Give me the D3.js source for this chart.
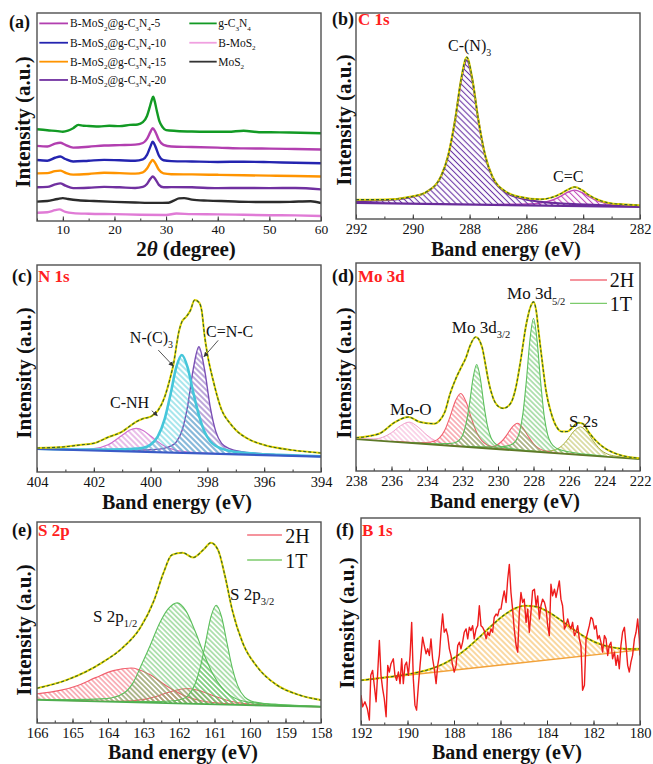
<!DOCTYPE html>
<html><head><meta charset="utf-8">
<script src="https://cdn.jsdelivr.net/npm/d3@7"></script>
<style>body{margin:0;background:#fff}svg{display:block}</style>
</head><body>
<svg width="653" height="764"></svg>
<script>
// ---------------- DATA ----------------
// (a) XRD, y in a.u. (0-100 of frame)
const xrdGrid = [5,7,8.5,9.5,10.5,12,15,18,21,24,25.5,26.3,27,27.4,27.9,28.6,29.5,31,35,40,45,50,55,60];
const xrd5  = [36.1,35.8,37.2,37.6,36.6,35.3,35.7,36.3,36.5,36.7,37.5,39.5,43.0,44.6,43.0,39.0,36.6,35.8,35.6,35.3,34.9,34.8,34.6,34.4];
const xrd10 = [29.3,29.0,30.4,31.0,29.8,28.6,29.0,29.4,29.2,29.0,29.6,31.8,36.0,38.1,36.0,31.5,29.2,28.8,28.6,28.4,28.5,28.3,28.0,27.8];
const xrd15 = [22.9,23.0,24.0,24.2,23.2,22.3,22.6,23.2,23.0,22.8,23.4,25.2,28.2,29.3,27.8,24.6,22.9,22.5,22.4,22.2,22.0,21.8,21.6,21.4];
const xrd20 = [16.2,16.4,17.6,18.1,17.0,15.8,16.0,16.4,16.2,15.9,16.4,17.8,20.4,21.4,20.2,17.4,16.2,16.3,16.2,15.8,15.9,15.8,15.9,15.2];
const gcnX = [5,7,9,10,11,12,13,14,15,17,19,21,23,24.5,25.5,26.3,26.8,27.2,27.5,27.8,28.2,28.7,29.3,30,32,35,38,42,45,48,52,56,60];
const gcnY = [44.1,43.6,43.2,42.9,43.4,44.6,46.2,45.8,45.7,45.4,45.8,45.6,46.2,46.4,47.5,50.5,54.5,58.0,59.8,57.5,53.0,48.0,45.2,43.7,43.3,43.0,42.9,42.9,43.4,42.7,42.6,42.4,42.2];
const mosX = [5,7,9,10,11,13,16,20,24,28,30.5,31.5,32.5,33.5,35,38,42,46,50,54,58,60];
const mosY = [9.3,9.6,10.6,11.0,10.6,10.0,9.6,9.2,8.9,8.7,8.8,9.8,10.9,11.0,10.3,9.8,9.5,9.2,9.1,9.2,9.5,8.6];
const bmosX = [5,7,8.5,9.3,10.5,12,15,20,25,30,32,35,40,45,50,55,60];
const bmosY = [4.0,4.2,5.2,5.6,4.4,3.8,3.5,3.3,3.0,2.9,3.6,3.3,3.2,3.0,2.8,2.7,2.4];
const xrdTicks = [10,20,30,40,50,60];

// (b) C 1s  (heights above linear background)
const bBaseX = [292,282], bBaseY = [7.8,5.9];
const bCN3X = [292,291,290,289.5,289,288.75,288.5,288.3,288.1,287.9,287.7,287.45,287.2,286.7,286.2,285.5,284.5,283,282];
const bCN3H = [0.8,1.5,3.4,5.9,13.6,23.7,41.7,60.1,70,60.1,41.7,23.7,13.6,5.9,3.4,1.8,1.0,0.5,0.4];
const bCCX = [287,286,285.5,285.1,284.8,284.55,284.3,284.05,283.8,283.5,283.1,282.6,282];
const bCCH = [0.25,0.6,1.2,2.6,4.6,6.6,7.7,6.6,4.6,2.6,1.2,0.6,0.35];
const bEnvX = [292,291,290,289.5,289,288.75,288.5,288.3,288.1,287.9,287.7,287.45,287.2,286.7,286.2,285.5,285.1,284.8,284.55,284.3,284.05,283.8,283.5,283.1,282.6,282];
const bEnvH = [1.6,1.8,3.6,6.0,13.8,24.0,42.0,60.8,71.5,60.8,42.0,24.0,13.9,6.3,4.0,3.0,4.0,5.8,7.8,9.2,7.8,5.4,3.3,1.7,1.1,0.8];

// (c) N 1s
const cBaseX = [404,394], cBaseY = [11.1,7.4];
const cNHX = [404,403,402.5,402,401.5,401,400.75,400.5,400.25,400,399.75,399.5,399.3,399.1,398.9,398.5,398,397,396,394];
const cNHH = [0.13,0.25,0.4,0.94,3.0,7.8,10.25,11.3,10.25,7.8,5.15,3.0,1.9,1.2,0.8,0.4,0.27,0.15,0.1,0.05];
const cNC3X = [404,402,401,400.5,400.25,400,399.75,399.5,399.3,399.1,398.9,398.7,398.5,398.3,398.1,397.9,397.7,397.5,397.2,396.8,396.3,395.5,394];
const cNC3H = [0.16,0.43,0.95,1.5,2.0,3.6,7.6,16.4,28.1,41.1,47.3,41.5,29.5,18.5,10.5,6.0,3.8,2.6,1.6,1.0,0.6,0.35,0.18];
const cCNCX = [404,402,401,400.5,400,399.5,399.3,399.1,398.9,398.7,398.5,398.3,398.1,397.9,397.7,397.5,397.2,396.8,396.3,395.5,394];
const cCNCH = [0.1,0.24,0.45,0.67,1.1,2.1,3.1,5.15,10.6,22.5,40.5,51.5,40.5,22.5,10.6,5.15,2.6,1.4,0.8,0.44,0.18];
const cEnvX = [404,403,402.5,402,401.5,401,400.75,400.5,400.25,400,399.75,399.5,399.3,399.2,399.0,398.9,398.75,398.6,398.45,398.3,398.2,398.1,398.0,397.8,397.5,397.2,397,396.5,396,395,394];
const cEnvH = [0.5,1.5,2.5,3.5,6.6,9.5,12.1,14.5,16.1,17.1,20.0,27.0,36.6,42.4,58.8,63.3,65.8,68.9,74.0,73.0,69.0,57.0,48.1,35.6,21.3,14.9,11.8,7.2,4.9,2.8,1.8];

// (d) Mo 3d
const dBaseX = [238,222], dBaseY = [15.3,5.7];
const dMoOX = [238,237,236.5,236,235.5,235,234.5,234,233.5,233,232,231];
const dMoOH = [0.25,0.73,1.8,4.3,7.9,10,7.9,4.3,1.8,0.73,0.25,0.14];
const d2H32X = [236,235,234.1,233.6,233.3,233.0,232.7,232.4,232.1,231.8,231.5,231.2,230.9,230.6,230.1,229.1,228];
const d2H32H = [0.2,0.35,0.74,1.66,3.4,7.3,14.0,21.7,25.5,21.7,14.0,7.3,3.4,1.66,0.74,0.35,0.2];
const d1T32X = [235.2,234.2,233.4,232.9,232.5,232.2,232.0,231.8,231.6,231.4,231.2,231.0,230.8,230.6,230.4,230.2,229.9,229.5,229.0,228.2,227.2];
const d1T32H = [0.18,0.31,0.56,0.92,1.5,2.9,5.4,11.1,21.2,33.6,40,33.6,21.2,11.1,5.4,2.9,1.5,0.92,0.56,0.31,0.18];
const d2H52X = [232.8,231.8,230.9,230.4,230.1,229.8,229.5,229.2,228.9,228.6,228.3,228.0,227.7,227.4,226.9,225.9,224.8];
const d2H52H = [0.1,0.18,0.38,0.85,1.75,3.8,7.2,11.1,13.1,11.1,7.2,3.8,1.75,0.85,0.38,0.18,0.1];
const d1T52X = [232,231,230.2,229.7,229.3,229.0,228.8,228.6,228.4,228.2,228.0,227.8,227.6,227.4,227.2,227.0,226.7,226.3,225.8,225.0,224.0];
const d1T52H = [0.28,0.49,0.9,1.47,2.4,4.6,8.6,17.7,33.9,53.7,64,53.7,33.9,17.7,8.6,4.6,2.4,1.47,0.9,0.49,0.28];
const dS2sX = [228.7,227.8,227.35,226.85,226.45,226.1,225.725,225.35,224.975,224.6,224.25,223.85,223.35,222.55,222];
const dS2sH = [0.19,0.38,0.57,1.4,3.4,6.75,11.2,13.5,11.2,6.75,3.4,1.4,0.57,0.27,0.19];
const dEnvX = [238,236.7,235.8,235.05,234.4,233.6,233.27,233.0,232.7,232.35,232.05,231.8,231.6,231.25,230.9,230.7,230.55,230.3,229.97,229.7,229.3,229.0,228.75,228.4,228.15,228.0,227.85,227.7,227.5,227.3,227.0,226.7,226.4,226.1,225.8,225.5,225.2,224.9,224.5,224.1,223.5,223.0,222];
const dEnvH = [0.7,3.4,9.5,12.4,10.4,10.1,12.0,16.0,25.0,33.0,38.5,43.0,48.2,53.2,48.6,40.0,33.0,25.0,20.5,19.8,22.3,30.0,42.0,61.4,70.0,72.0,68.0,57.0,43.0,30.0,19.0,12.7,10.6,10.8,13.0,15.4,15.0,11.4,7.5,4.7,2.2,1.1,0.4];

// (e) S 2p
const eBaseX = [166,158], eBaseY = [11.5,8.0];
const e2H12X = [166,165.35,164.85,164.35,163.85,163.35,162.85,162.35,161.85,161.35,160.85,160.35,159.35,158];
const e2H12H = [3.0,5.0,7.7,11.8,15.5,17,14.2,8.5,3.9,1.5,0.65,0.34,0.2,0.12];
const e2H32X = [165.5,164.55,163.75,163.35,162.95,162.55,162.15,161.75,161.35,160.95,160.55,160.15,159.75,158.95,158];
const e2H32H = [0.05,0.12,0.29,0.68,1.73,3.75,6.25,7.5,6.25,3.75,1.73,0.68,0.29,0.12,0.06];
const e1T12X = [166,165,164.05,163.55,163.3,163.05,162.8,162.55,162.3,162.05,161.8,161.55,161.3,161.05,160.8,160.55,160.05,159.05,158];
const e1T12H = [0.34,0.6,1.5,4.5,9.5,19,29,39.5,47,50,46,36.3,25,15.2,8.5,4.5,1.5,0.6,0.35];
const e1T32X = [164,162.75,162.25,161.95,161.75,161.55,161.4,161.25,161.1,160.95,160.8,160.65,160.5,160.35,160.15,159.95,159.65,159.15,158];
const e1T32H = [0.2,0.6,1.1,2.0,3.9,9.7,18.3,30.8,43.5,49.3,43.5,30.8,18.3,9.7,3.9,2.0,1.1,0.6,0.15];
const eEnvX = [166,165.16,164.2,163.6,163.1,162.7,162.44,162.2,161.9,161.6,161.3,161.1,160.9,160.7,160.5,160.2,159.8,159.25,158.6,158];
const eEnvH = [5.8,10.3,19.0,26.8,36.9,51.1,64.6,73.8,75.0,72.8,77.0,80.3,76.8,63.6,47.1,30.7,19.2,10.4,5.6,3.4];

// (f) B 1s
const fBaseX = [192,180], fBaseY = [21.6,36.3];
const fFitX = [192,191,190,189.45,188.95,188.45,187.95,187.45,186.95,186.45,185.95,185.45,184.95,184.45,183.95,183.45,182.95,182.45,181.95,181.45,180.95,180.45,180];
const fFitH = [0,0.08,0.42,0.96,1.96,3.6,6.2,9.8,14.2,18.9,23.2,26.3,27.4,26.3,23.2,18.9,14.2,9.8,6.2,3.6,1.96,0.96,0.48];
const fRawX = [192.0,191.93,191.83,191.73,191.64,191.58,191.5,191.43,191.35,191.28,191.21,191.14,191.07,191.0,190.92,190.85,190.78,190.71,190.61,190.54,190.47,190.39,190.32,190.25,190.18,190.11,190.04,189.96,189.89,189.82,189.75,189.68,189.61,189.53,189.46,189.35,189.28,189.2,189.13,189.06,188.99,188.92,188.85,188.77,188.7,188.63,188.56,188.49,188.42,188.34,188.27,188.2,188.13,188.06,187.99,187.91,187.84,187.77,187.7,187.63,187.56,187.48,187.41,187.34,187.27,187.2,187.13,187.05,186.98,186.91,186.84,186.77,186.7,186.62,186.55,186.48,186.41,186.34,186.27,186.19,186.12,186.05,185.98,185.91,185.84,185.76,185.69,185.62,185.55,185.48,185.41,185.33,185.26,185.19,185.12,185.05,184.98,184.9,184.83,184.76,184.69,184.62,184.54,184.47,184.4,184.33,184.26,184.19,184.11,184.04,183.97,183.9,183.83,183.76,183.68,183.61,183.54,183.47,183.4,183.33,183.25,183.18,183.11,183.04,182.97,182.9,182.82,182.75,182.68,182.61,182.54,182.47,182.39,182.32,182.25,182.18,182.11,182.04,181.96,181.89,181.82,181.75,181.68,181.61,181.53,181.46,181.39,181.32,181.25,181.18,181.1,181.03,180.96,180.89,180.82,180.75,180.67,180.6,180.53,180.46,180.39,180.32,180.24,180.17,180.1,180.03,180.0];
const fRawY = [14.4,8.8,11.2,8.0,2.4,24.0,26.4,19.2,11.2,25.6,40.8,24.0,17.6,12.8,4.0,28.8,25.6,29.6,32.0,24.0,21.6,25.6,20.0,32.0,20.0,28.8,30.4,24.0,33.6,49.6,22.4,9.6,7.2,19.2,28.8,42.4,38.4,34.4,36.8,33.6,41.6,32.0,27.2,20.0,28.8,33.6,44.8,53.6,44.8,46.4,43.2,36.8,33.6,28.8,25.6,28.8,38.4,40.0,36.8,40.0,44.8,46.4,41.6,47.2,45.6,48.0,41.6,46.4,48.0,57.6,48.0,47.2,45.6,41.6,44.8,43.2,46.4,44.8,52.0,53.6,52.8,56.0,56.0,60.8,64.8,59.2,70.4,77.6,64.0,56.0,46.4,38.4,35.2,54.4,64.0,59.2,60.8,49.6,56.0,44.8,54.4,64.8,65.6,57.6,62.4,51.2,57.6,60.8,59.2,56.0,48.0,43.2,68.0,62.4,65.6,61.6,65.6,69.6,60.8,57.6,46.4,48.0,51.2,48.0,46.4,49.6,43.2,44.8,48.0,41.6,38.4,16.8,19.2,41.6,44.8,48.0,52.0,51.2,46.4,48.0,41.6,43.2,40.0,35.2,43.2,41.6,33.6,38.4,40.0,32.0,35.2,28.8,33.6,27.2,38.4,44.8,47.2,38.4,28.8,25.6,30.4,33.6,41.6,44.8,51.2,41.6,33.6];

// ---------------- DRAWING ----------------
const svg = d3.select("svg");
const defs = svg.append("defs");
const SERIF = "'Liberation Serif','Times New Roman',Times,serif";

function hatch(id, color, size, sw){
  const p = defs.append("pattern").attr("id", id).attr("patternUnits","userSpaceOnUse")
    .attr("width", size).attr("height", size).attr("patternTransform","rotate(-45)");
  p.append("line").attr("x1", size/2).attr("y1", -1).attr("x2", size/2).attr("y2", size+1)
    .attr("stroke", color).attr("stroke-width", sw);
}
defs.append("marker").attr("id","arr").attr("viewBox","0 0 10 10").attr("refX",9).attr("refY",5)
  .attr("markerWidth",5).attr("markerHeight",5).attr("orient","auto")
  .append("path").attr("d","M0,0L10,5L0,10z").attr("fill","#333");

function rich(g, x, y, parts, size, opt){
  opt = opt || {};
  const t = g.append("text").attr("x", x).attr("y", y).attr("font-family", SERIF)
    .attr("font-size", size).attr("fill", opt.fill || "#111")
    .attr("font-weight", opt.bold ? "bold" : "normal").attr("text-anchor", opt.anchor || "start");
  let sub = false;
  parts.forEach(p => {
    if (typeof p === "string") { t.append("tspan").attr("dy", sub ? -size*0.3 : 0).text(p); sub = false; }
    else { t.append("tspan").attr("dy", sub ? 0 : size*0.3).attr("font-size", size*0.62).text(p.s); sub = true; }
  });
  return t;
}

function panel(o){
  const x = d3.scaleLinear().domain(o.dom).range([o.x0, o.x1]);
  const y = d3.scaleLinear().domain([0,100]).range([o.y1, o.y0]);
  const id = "clip" + o.name;
  defs.append("clipPath").attr("id", id).append("rect")
    .attr("x", o.x0).attr("y", o.y0).attr("width", o.x1-o.x0).attr("height", o.y1-o.y0);
  const g = svg.append("g");
  const plot = g.append("g").attr("clip-path", `url(#${id})`);
  return {x, y, g, plot, o};
}
function finish(p, majors, minors, fs, pad){
  const {x, g, o} = p;
  const mn = g.append("g").attr("transform", `translate(0,${o.y1})`)
    .call(d3.axisBottom(x).tickValues(minors).tickSize(-2.5).tickFormat(""));
  mn.select(".domain").remove(); mn.selectAll("line").attr("stroke","#333");
  const ax = g.append("g").attr("transform", `translate(0,${o.y1})`)
    .call(d3.axisBottom(x).tickValues(majors).tickSize(-4.5).tickPadding(pad).tickFormat(d3.format("d")));
  ax.select(".domain").remove(); ax.selectAll("line").attr("stroke","#333");
  ax.selectAll("text").attr("font-family", SERIF).attr("font-size", fs).attr("fill","#111");
  g.append("rect").attr("x", o.x0).attr("y", o.y0).attr("width", o.x1-o.x0).attr("height", o.y1-o.y0)
    .attr("fill","none").attr("stroke","#505050").attr("stroke-width",1.4);
}
function baseFn(bx, by){ return d3.scaleLinear().domain(bx).range(by); }
function comp(p, xs, hs, base, color, pat, sw){
  const pts = xs.map((v,i)=>[v, hs[i]]);
  const area = d3.area().x(d=>p.x(d[0])).y0(d=>p.y(base(d[0]))).y1(d=>p.y(base(d[0])+d[1])).curve(d3.curveMonotoneX);
  p.plot.append("path").attr("d", area(pts)).attr("fill", `url(#${pat})`).attr("stroke","none");
  const line = d3.line().x(d=>p.x(d[0])).y(d=>p.y(base(d[0])+d[1])).curve(d3.curveMonotoneX);
  p.plot.append("path").attr("d", line(pts)).attr("fill","none").attr("stroke", color).attr("stroke-width", sw);
}
function baseline(p, bx, by, color, sw){
  p.plot.append("line").attr("x1", p.x(bx[0])).attr("y1", p.y(by[0])).attr("x2", p.x(bx[1])).attr("y2", p.y(by[1]))
    .attr("stroke", color).attr("stroke-width", sw);
}
function envelope(p, xs, hs, base){
  const pts = xs.map((v,i)=>[v, hs[i]]);
  const line = d3.line().x(d=>p.x(d[0])).y(d=>p.y(base(d[0])+d[1])).curve(d3.curveMonotoneX);
  p.plot.append("path").attr("d", line(pts)).attr("fill","none").attr("stroke","#E3D400").attr("stroke-width",2);
  p.plot.append("path").attr("d", line(pts)).attr("fill","none").attr("stroke","#2F5F2F").attr("stroke-width",1.1).attr("stroke-dasharray","3,2");
}
function ytitle(x, y){
  svg.append("text").attr("transform", `translate(${x},${y}) rotate(-90)`).attr("text-anchor","middle")
    .attr("font-family", SERIF).attr("font-weight","bold").attr("font-size",21).attr("fill","#111").text("Intensity (a.u.)");
}
function xtitle(x, y){
  svg.append("text").attr("x", x).attr("y", y).attr("text-anchor","middle")
    .attr("font-family", SERIF).attr("font-weight","bold").attr("font-size",20).attr("fill","#111").text("Band energy (eV)");
}
function plabel(x, y, letter, elem){
  svg.append("text").attr("x", x).attr("y", y).attr("font-family", SERIF).attr("font-weight","bold")
    .attr("font-size",18).attr("fill","#111").text(letter);
  if (elem) svg.append("text").attr("x", x+26).attr("y", y).attr("font-family", SERIF).attr("font-weight","bold")
    .attr("font-size",17).attr("fill","#FF2020").text(elem);
}
function legendLine(p, x1, x2, yv, color, sw){
  p.g.append("line").attr("x1", p.x(x1)).attr("x2", p.x(x2)).attr("y1", p.y(yv)).attr("y2", p.y(yv))
    .attr("stroke", color).attr("stroke-width", sw);
}
const range = (a,b,s) => d3.range(a, b + s/2, s);

// patterns
hatch("hb1","#6A35A5",4.2,1.1); hatch("hb2","#C04AB8",4.2,1.1);
hatch("hc1","#D27BD2",4,1); hatch("hc2","#50CDDA",4,1); hatch("hc3","#7A4FB5",4,1);
hatch("hdp","#F4A6D0",3.6,0.9); hatch("hdr","#F2606E",3.6,0.9); hatch("hdg","#5CBF5C",3.6,0.9); hatch("hdy","#B5B84A",3.6,0.9);
hatch("her","#F2606E",3.6,0.9); hatch("heg","#5CBF5C",3.6,0.9);
hatch("hf","#F5B041",4,1);

// ===== (a) =====
const A = panel({name:"a", x0:37, x1:321, y0:13, y1:221, dom:[5,60]});
{
  const series = [
    {x:bmosX, y:bmosY, c:"#E07BD6"},
    {x:mosX, y:mosY, c:"#2B2B2B"},
    {x:xrdGrid, y:xrd20, c:"#7030A0"},
    {x:xrdGrid, y:xrd15, c:"#FF9400"},
    {x:xrdGrid, y:xrd10, c:"#2424B0"},
    {x:xrdGrid, y:xrd5, c:"#B23FB0"},
    {x:gcnX, y:gcnY, c:"#129A24"}
  ];
  series.forEach(s => {
    const pts = s.x.map((v,i)=>[v, s.y[i]]);
    A.plot.append("path").attr("d", d3.line().x(d=>A.x(d[0])).y(d=>A.y(d[1])).curve(d3.curveMonotoneX)(pts))
      .attr("fill","none").attr("stroke", s.c).attr("stroke-width",2.4).attr("stroke-linejoin","round");
  });
  const leg = [
    {x1:5.45, x2:11.0, tx:11.4, yv:95.0, c:"#B23FB0", parts:["B-MoS",{s:"2"},"@g-C",{s:"3"},"N",{s:"4"},"-5"]},
    {x1:5.45, x2:11.0, tx:11.4, yv:85.7, c:"#2424B0", parts:["B-MoS",{s:"2"},"@g-C",{s:"3"},"N",{s:"4"},"-10"]},
    {x1:5.45, x2:11.0, tx:11.4, yv:76.6, c:"#FF9400", parts:["B-MoS",{s:"2"},"@g-C",{s:"3"},"N",{s:"4"},"-15"]},
    {x1:5.45, x2:11.0, tx:11.4, yv:67.8, c:"#7030A0", parts:["B-MoS",{s:"2"},"@g-C",{s:"3"},"N",{s:"4"},"-20"]},
    {x1:34.5, x2:39.8, tx:40.1, yv:95.0, c:"#129A24", parts:["g-C",{s:"3"},"N",{s:"4"}]},
    {x1:34.5, x2:39.8, tx:40.1, yv:85.7, c:"#F0A0E0", parts:["B-MoS",{s:"2"}]},
    {x1:34.5, x2:39.8, tx:40.1, yv:76.6, c:"#333", parts:["MoS",{s:"2"}]}
  ];
  leg.forEach(l => {
    legendLine(A, l.x1, l.x2, l.yv, l.c, 1.8);
    rich(A.g, A.x(l.tx), A.y(l.yv)+4, l.parts, 11.5);
  });
  finish(A, xrdTicks, range(5,60,5), 13.5, 3.5);
  const t = svg.append("text").attr("x",186).attr("y",256).attr("text-anchor","middle").attr("font-family",SERIF)
    .attr("font-weight","bold").attr("font-size",21).attr("fill","#111");
  t.append("tspan").text("2");
  t.append("tspan").attr("font-style","italic").text("θ");
  t.append("tspan").text(" (degree)");
  ytitle(30, 122);
  plabel(9, 28, "(a)", null);
}

// ===== (b) =====
const B = panel({name:"b", x0:356, x1:640, y0:13, y1:219, dom:[292,282]});
{
  const base = baseFn(bBaseX, bBaseY);
  comp(B, bCCX, bCCH, base, "#C04AB8", "hb2", 1.4);
  comp(B, bCN3X, bCN3H, base, "#6A2C9A", "hb1", 2);
  baseline(B, bBaseX, bBaseY, "#6A2C9A", 2.2);
  envelope(B, bEnvX, bEnvH, base);
  rich(B.g, B.x(288.76), B.y(81.6), ["C-(N)",{s:"3"}], 16);
  rich(B.g, B.x(285.06), B.y(18.2), ["C=C"], 16);
  finish(B, range(282,292,2), range(282,292,1), 14.5, 4.5);
  xtitle(506, 256);
  ytitle(351, 120);
  plabel(332, 25, "(b)", "C 1s");
}

// ===== (c) =====
const C = panel({name:"c", x0:37, x1:321, y0:265, y1:472, dom:[404,394]});
{
  const base = baseFn(cBaseX, cBaseY);
  comp(C, cNHX, cNHH, base, "#D070D0", "hc1", 1.2);
  comp(C, cCNCX, cCNCH, base, "#7A4FB5", "hc3", 1.4);
  comp(C, cNC3X, cNC3H, base, "#45C6DA", "hc2", 2.6);
  baseline(C, cBaseX, cBaseY, "#3A5BC7", 2.2);
  envelope(C, cEnvX, cEnvH, base);
  const ann = [
    {tx:400.73, ty:62.3, parts:["N-(C)",{s:"3"}], ax1:399.73, ay1:58.9, ax2:399.2, ay2:51.2},
    {tx:398.05, ty:65.4, parts:["C=N-C"], ax1:397.62, ay1:63.6, ax2:398.12, ay2:55.7},
    {tx:401.43, ty:30.8, parts:["C-NH"], ax1:399.96, ay1:29.6, ax2:399.76, ay2:27.2}
  ];
  ann.forEach(a => {
    rich(C.g, C.x(a.tx), C.y(a.ty), a.parts, 16);
    C.g.append("line").attr("x1", C.x(a.ax1)).attr("y1", C.y(a.ay1)).attr("x2", C.x(a.ax2)).attr("y2", C.y(a.ay2))
      .attr("stroke","#555").attr("stroke-width",1).attr("marker-end","url(#arr)");
  });
  finish(C, range(394,404,2), range(394,404,1), 14.5, 4.5);
  xtitle(177, 509);
  ytitle(31, 373);
  plabel(12, 282, "(c)", "N 1s");
}

// ===== (d) =====
const D = panel({name:"d", x0:356, x1:640, y0:263, y1:471, dom:[238,222]});
{
  const base = baseFn(dBaseX, dBaseY);
  comp(D, dMoOX, dMoOH, base, "#F2A2CC", "hdp", 1);
  comp(D, dS2sX, dS2sH, base, "#A9AE3E", "hdy", 1);
  comp(D, d2H32X, d2H32H, base, "#F2606E", "hdr", 1.1);
  comp(D, d2H52X, d2H52H, base, "#F2606E", "hdr", 1.1);
  comp(D, d1T32X, d1T32H, base, "#5CBF5C", "hdg", 1.1);
  comp(D, d1T52X, d1T52H, base, "#5CBF5C", "hdg", 1.1);
  baseline(D, dBaseX, dBaseY, "#5E7A28", 1.8);
  envelope(D, dEnvX, dEnvH, base);
  rich(D.g, D.x(229.49), D.y(82.5), ["Mo 3d",{s:"5/2"}], 17);
  rich(D.g, D.x(232.6), D.y(66.2), ["Mo 3d",{s:"3/2"}], 17);
  rich(D.g, D.x(236.08), D.y(26.9), ["Mo-O"], 17);
  rich(D.g, D.x(226.0), D.y(21.3), ["S 2s"], 17);
  legendLine(D, 225.94, 223.86, 91.8, "#F2707C", 1.4);
  legendLine(D, 225.94, 223.86, 80.6, "#7CCB6C", 1.4);
  rich(D.g, D.x(223.7), D.y(88.6), ["2H"], 20);
  rich(D.g, D.x(223.7), D.y(77.1), ["1T"], 20);
  finish(D, range(222,238,2), range(222,238,1), 14.5, 4.5);
  xtitle(505, 508);
  ytitle(351, 373);
  plabel(332, 282, "(d)", "Mo 3d");
}

// ===== (e) =====
const E = panel({name:"e", x0:37, x1:321, y0:522, y1:723, dom:[166,158]});
{
  const base = baseFn(eBaseX, eBaseY);
  comp(E, e2H12X, e2H12H, base, "#F2606E", "her", 1.1);
  comp(E, e2H32X, e2H32H, base, "#F2606E", "her", 1.1);
  comp(E, e1T12X, e1T12H, base, "#5CBF5C", "heg", 1.1);
  comp(E, e1T32X, e1T32H, base, "#5CBF5C", "heg", 1.1);
  baseline(E, eBaseX, eBaseY, "#4FAF4F", 1.8);
  envelope(E, eEnvX, eEnvH, base);
  rich(E.g, E.x(164.42), E.y(50.4), ["S 2p",{s:"1/2"}], 17);
  rich(E.g, E.x(160.56), E.y(61.2), ["S 2p",{s:"3/2"}], 17);
  legendLine(E, 160.08, 159.1, 93.5, "#F2707C", 1.4);
  legendLine(E, 160.08, 159.1, 81.1, "#7CCB6C", 1.4);
  rich(E.g, E.x(159.01), E.y(89.7), ["2H"], 20);
  rich(E.g, E.x(159.01), E.y(77.1), ["1T"], 20);
  finish(E, range(158,166,1), range(158,166,0.5), 14.5, 4.5);
  xtitle(183, 759);
  ytitle(31, 630);
  plabel(12, 536, "(e)", "S 2p");
}

// ===== (f) =====
const F = panel({name:"f", x0:361, x1:640, y0:518, y1:725, dom:[192,180]});
{
  const base = baseFn(fBaseX, fBaseY);
  comp(F, fFitX, fFitH, base, "#F5B041", "hf", 0.8);
  baseline(F, fBaseX, fBaseY, "#F2A23A", 1.4);
  envelope(F, fFitX, fFitH, base);
  const pts = fRawX.map((v,i)=>[v, fRawY[i]]);
  F.plot.append("path").attr("d", d3.line().x(d=>F.x(d[0])).y(d=>F.y(d[1]))(pts))
    .attr("fill","none").attr("stroke","#EE1C1C").attr("stroke-width",1.4).attr("stroke-linejoin","round");
  finish(F, range(180,192,2), range(180,192,1), 14.5, 2.5);
  xtitle(507, 759);
  ytitle(354, 623);
  plabel(336, 536, "(f)", "B 1s");
}
</script>
</body></html>
